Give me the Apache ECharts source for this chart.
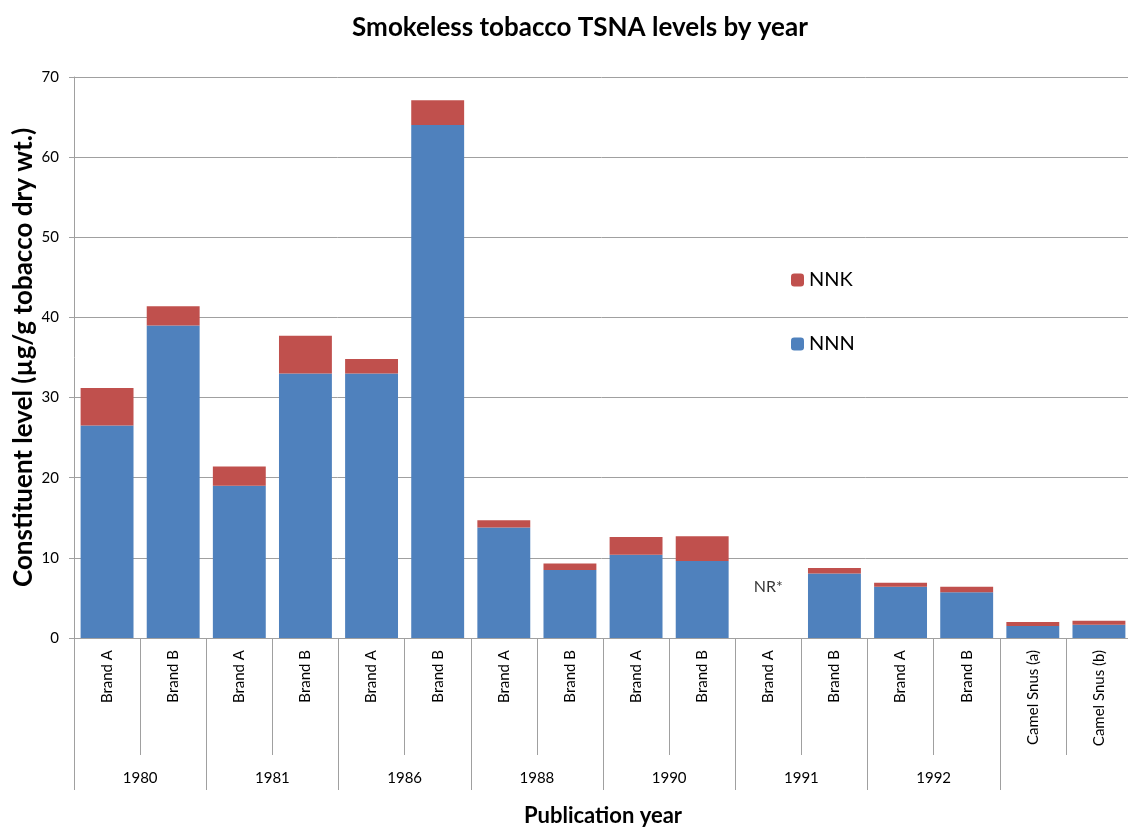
<!DOCTYPE html>
<html>
<head>
<meta charset="utf-8">
<script src="https://cdn.jsdelivr.net/npm/echarts@6/dist/echarts.min.js"></script>
<style>
  html, body { margin: 0; padding: 0; background: #fff; }
  #main { width: 1128px; height: 828px; }
</style>
</head>
<body>
<div id="main"></div>
<script>
// categories (brand per publication)
var brands = ['Brand A', 'Brand B', 'Brand A', 'Brand B', 'Brand A', 'Brand B', 'Brand A', 'Brand B',
  'Brand A', 'Brand B', 'Brand A', 'Brand B', 'Brand A', 'Brand B', 'Camel Snus (a)', 'Camel Snus (b)']
// publication years (each covers two brands)
var years = ['1980', '1981', '1986', '1988', '1990', '1991', '1992', '']
// NNN and NNK levels (µg/g tobacco dry wt.), null = not reported
var nnn = [26.5, 39.0, 19.0, 33.0, 33.0, 64.0, 13.8, 8.5, 10.4, 9.6, null, 8.05, 6.4, 5.7, 1.5, 1.65]
var nnk = [4.7, 2.4, 2.4, 4.7, 1.8, 3.1, 0.9, 0.8, 2.2, 3.1, null, 0.7, 0.5, 0.7, 0.5, 0.5]
// "NR*" note for the 1991 Brand A bar
var nrNote = [[10, 6.4]]

var font = 'Lato, "Open Sans", sans-serif'
var gray = '#a0a0a0'

var myChart = echarts.init(document.getElementById('main'))

var options = {
  textStyle: { fontFamily: font },
  animation: false,
  title: {
    text: 'Smokeless tobacco TSNA levels by year',
    left: 575,
    textAlign: 'center',
    top: 10,
    textStyle: { fontFamily: font, fontSize: 26, fontWeight: 'bold', color: '#000' }
  },
  legend: {
    orient: 'vertical',
    left: 786,
    top: 265,
    itemWidth: 13,
    itemHeight: 13,
    itemGap: 44,
    data: ['NNK', 'NNN'],
    textStyle: { fontFamily: font, fontSize: 20, color: '#000' }
  },
  grid: {
    left: 74,
    right: -4,
    top: 77,
    bottom: 190,
    containLabel: false,
    outerBoundsMode: 'none'
  },
  xAxis: [
    {
      type: 'category',
      data: brands,
      axisLine: { show: true, lineStyle: { color: gray } },
      axisTick: { show: true, length: 117, interval: 0, lineStyle: { color: gray } },
      axisLabel: { rotate: 90, interval: 0, margin: 12, fontSize: 15, color: '#000', fontFamily: font }
    },
    {
      type: 'category',
      data: years,
      position: 'bottom',
      offset: 117,
      axisLine: { show: false },
      axisTick: { show: true, length: 35, interval: 0, lineStyle: { color: gray } },
      axisLabel: { interval: 0, margin: 16, fontSize: 15, color: '#000', fontFamily: font },
      name: 'Publication year',
      nameLocation: 'middle',
      nameGap: 50,
      nameMoveOverlap: false,
      nameTextStyle: { fontSize: 22, fontWeight: 'bold', color: '#000', fontFamily: font }
    }
  ],
  yAxis: {
    type: 'value',
    min: 0,
    max: 70,
    interval: 10,
    name: 'Constituent level (µg/g tobacco dry wt.)',
    nameLocation: 'middle',
    nameGap: 37,
    nameMoveOverlap: false,
    nameTextStyle: { fontSize: 26, fontWeight: 'bold', color: '#000', fontFamily: font },
    axisLine: { show: true, lineStyle: { color: gray } },
    axisTick: { show: true, length: 5, lineStyle: { color: gray } },
    axisLabel: { margin: 15, fontSize: 15, color: '#000', fontFamily: font },
    splitLine: { lineStyle: { color: gray } }
  },
  series: [
    {
      name: 'NNN',
      type: 'bar',
      stack: 'tsna',
      barCategoryGap: '20%',
      itemStyle: { color: '#4F81BD' },
      data: nnn
    },
    {
      name: 'NNK',
      type: 'bar',
      stack: 'tsna',
      itemStyle: { color: '#C0504D' },
      data: nnk
    },
    {
      name: 'note',
      type: 'scatter',
      symbolSize: 0,
      silent: true,
      label: {
        show: true,
        position: 'inside',
        formatter: 'NR*',
        fontSize: 16,
        color: '#000',
        fontFamily: font
      },
      data: nrNote
    }
  ]
}

myChart.setOption(options)
</script>
</body>
</html>
